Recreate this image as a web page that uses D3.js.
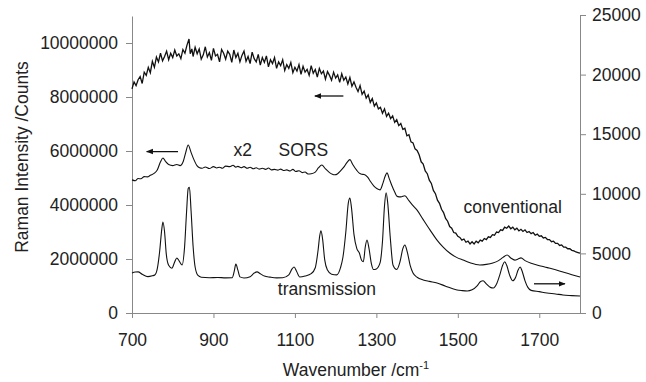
<!DOCTYPE html>
<html>
<head>
<meta charset="utf-8">
<script src="https://cdn.jsdelivr.net/npm/d3@7"></script>
<style>
  body { margin: 0; background: #fff; }
  svg text { font-family: "Liberation Sans", Arial, sans-serif; fill: #222; }
</style>
</head>
<body>
<div id="chart"></div>
<script>
// conventional spectrum (left axis, millions of counts) - noisy
var conventional = [
  [700,8.30],[705,8.56],[710,8.42],[715,8.64],[720,8.76],[725,8.50],[730,8.92],[735,8.80],[740,9.10],[745,8.90],
  [750,9.32],[755,9.10],[760,9.48],[765,9.30],[770,9.62],[775,9.34],[780,9.50],[785,9.70],[790,9.38],[795,9.62],
  [800,9.46],[805,9.74],[810,9.52],[815,9.60],[820,9.42],[825,9.76],[830,9.62],[835,9.92],[840,10.15],[843,9.60],
  [847,9.78],[850,9.50],[855,9.84],[860,9.60],[865,9.78],[870,9.40],[875,9.56],[880,9.86],[885,9.48],[890,9.64],
  [895,9.36],[900,9.80],[905,9.52],[910,9.58],[915,9.30],[920,9.76],[925,9.62],[930,9.40],[935,9.70],[940,9.58],
  [945,9.28],[950,9.74],[955,9.46],[960,9.62],[965,9.30],[970,9.54],[975,9.70],[980,9.32],[985,9.50],[990,9.24],
  [995,9.66],[1000,9.42],[1005,9.30],[1010,9.58],[1015,9.18],[1020,9.46],[1025,9.28],[1030,9.52],[1035,9.12],[1040,9.38],
  [1045,9.24],[1050,9.46],[1055,9.06],[1060,9.30],[1065,9.16],[1070,9.38],[1075,8.98],[1080,9.20],[1085,9.06],[1090,9.28],
  [1095,8.90],[1100,9.10],[1105,8.96],[1110,9.20],[1115,8.84],[1120,9.14],[1125,8.92],[1130,9.02],[1135,8.80],[1140,9.16],
  [1145,8.88],[1150,9.02],[1155,8.74],[1160,9.06],[1165,8.86],[1170,8.96],[1175,8.66],[1180,8.94],[1185,8.80],[1190,8.62],
  [1195,8.92],[1200,8.70],[1205,8.82],[1210,8.54],[1215,8.86],[1220,8.62],[1225,8.74],[1230,8.48],[1235,8.72],[1240,8.40],
  [1245,8.56],[1250,8.36],[1255,8.20],[1260,8.42],[1265,8.10],[1270,8.22],[1275,7.96],[1280,8.08],[1285,7.80],[1290,7.94],
  [1295,7.66],[1300,7.78],[1305,7.56],[1310,7.62],[1315,7.40],[1320,7.56],[1325,7.28],[1330,7.40],[1335,7.20],[1340,7.30],
  [1345,7.06],[1350,7.16],[1355,6.94],[1360,7.02],[1365,6.80],[1370,6.84],[1375,6.56],[1380,6.60],[1385,6.34],[1390,6.30],
  [1395,6.08],[1400,6.02],[1405,5.86],[1410,5.60],[1415,5.52],[1420,5.26],[1425,5.16],[1430,4.92],[1435,4.80],[1440,4.54],
  [1445,4.42],[1450,4.18],[1455,4.06],[1460,3.84],[1465,3.72],[1470,3.50],[1475,3.40],[1480,3.20],[1485,3.14],[1490,2.98],
  [1495,2.96],[1500,2.84],[1505,2.80],[1510,2.70],[1515,2.74],[1520,2.62],[1525,2.66],[1530,2.56],[1535,2.64],[1540,2.56],
  [1545,2.66],[1550,2.60],[1555,2.70],[1560,2.66],[1565,2.76],[1570,2.72],[1575,2.82],[1580,2.80],[1585,2.90],[1590,2.88],
  [1595,3.00],[1600,2.98],[1605,3.08],[1610,3.06],[1615,3.18],[1620,3.14],[1625,3.22],[1630,3.12],[1635,3.18],[1640,3.08],
  [1645,3.14],[1650,3.04],[1655,3.10],[1660,3.02],[1665,3.08],[1670,2.98],[1675,3.02],[1680,2.94],[1685,2.98],[1690,2.88],
  [1695,2.92],[1700,2.84],[1705,2.86],[1710,2.78],[1715,2.80],[1720,2.72],[1725,2.72],[1730,2.64],[1735,2.66],[1740,2.58],
  [1745,2.58],[1750,2.50],[1755,2.52],[1760,2.44],[1765,2.44],[1770,2.38],[1775,2.38],[1780,2.32],[1785,2.30],[1790,2.26],
  [1795,2.24],[1800,2.22]
];

// SORS spectrum x2 (left axis, millions of counts)
var sors = [
  [700,4.93],[708,4.90],[715,4.98],[722,4.97],[730,5.05],[738,5.04],[745,5.10],[755,5.18],[762,5.30],[770,5.60],
  [776,5.74],[782,5.62],[790,5.50],[800,5.46],[810,5.50],[818,5.46],[826,5.62],[832,5.95],[838,6.22],[845,5.95],
  [852,5.68],[860,5.45],[866,5.38],[872,5.36],[880,5.41],[890,5.35],[900,5.42],[908,5.37],[915,5.40],[922,5.36],
  [930,5.44],[940,5.42],[948,5.47],[955,5.40],[960,5.43],[968,5.38],[975,5.42],[983,5.36],[990,5.40],[998,5.34],
  [1005,5.38],[1012,5.33],[1020,5.36],[1028,5.32],[1035,5.37],[1042,5.30],[1050,5.32],[1058,5.29],[1065,5.33],[1072,5.28],
  [1080,5.30],[1088,5.26],[1095,5.32],[1102,5.24],[1110,5.27],[1118,5.20],[1125,5.22],[1132,5.15],[1140,5.16],[1150,5.22],
  [1158,5.38],[1166,5.48],[1175,5.34],[1185,5.20],[1192,5.14],[1198,5.12],[1205,5.16],[1212,5.26],[1220,5.40],[1228,5.58],
  [1235,5.68],[1242,5.50],[1252,5.28],[1258,5.18],[1264,5.14],[1270,5.13],[1278,5.04],[1286,4.86],[1294,4.70],[1302,4.60],
  [1309,4.56],[1316,4.80],[1322,5.08],[1326,5.19],[1332,4.96],[1338,4.72],[1345,4.48],[1351,4.32],[1360,4.30],[1370,4.34],
  [1380,4.16],[1390,3.98],[1400,3.81],[1415,3.46],[1432,3.07],[1448,2.72],[1464,2.44],[1480,2.22],[1497,2.06],[1513,1.96],
  [1530,1.86],[1554,1.78],[1570,1.80],[1586,1.85],[1600,1.94],[1611,2.06],[1621,2.15],[1630,2.04],[1640,1.96],[1648,2.00],
  [1655,2.04],[1665,1.94],[1680,1.84],[1694,1.78],[1720,1.68],[1740,1.60],[1758,1.52],[1780,1.42],[1800,1.33]
];

// transmission spectrum (right axis, counts)
var transmission = [
  [700,3360],[708,3440],[715,3450],[725,3250],[739,3050],[750,3120],[756,3190],[762,3700],[768,5200],[773,7000],
  [776,7640],[780,6800],[784,5000],[790,4000],[798,3760],[805,4300],[810,4620],[816,4350],[823,4030],[829,5500],
  [834,8500],[838,10450],[841,10550],[845,8600],[850,5600],[855,3860],[862,3150],[870,3000],[890,2960],[910,2980],
  [930,2950],[946,2960],[951,3500],[955,4100],[960,3600],[965,3030],[975,2940],[990,3050],[1000,3350],[1007,3450],
  [1015,3300],[1025,3100],[1039,3010],[1055,2950],[1070,2960],[1085,3200],[1093,3700],[1098,3860],[1104,3500],[1112,3020],
  [1125,3100],[1140,3300],[1150,3800],[1157,5300],[1161,6500],[1164,6900],[1168,6200],[1173,4500],[1180,3600],[1190,3250],
  [1203,3200],[1212,3800],[1218,4700],[1225,6800],[1231,9200],[1235,9650],[1239,8800],[1245,6600],[1252,5400],[1258,5050],
  [1264,4400],[1268,4300],[1273,5600],[1277,6130],[1282,5400],[1288,4100],[1293,3650],[1300,3700],[1309,4200],[1315,6000],
  [1320,9000],[1324,10080],[1328,9200],[1334,6400],[1341,4000],[1350,3650],[1358,4300],[1365,5400],[1370,5700],[1376,5100],
  [1383,4000],[1390,3360],[1400,3000],[1415,2770],[1430,2650],[1449,2520],[1470,2250],[1498,1930],[1510,1880],[1523,1850],
  [1535,1950],[1548,2300],[1556,2650],[1562,2700],[1570,2450],[1580,2150],[1587,2100],[1596,2500],[1604,3300],[1610,4000],
  [1615,4300],[1620,4000],[1627,3200],[1635,2700],[1642,3000],[1648,3600],[1653,3860],[1658,3500],[1665,2700],[1672,2150],
  [1680,1900],[1700,1790],[1719,1680],[1740,1600],[1758,1510],[1780,1460],[1800,1420]
];

var xTicks = [700, 900, 1100, 1300, 1500, 1700];
var leftTicks = [0, 2000000, 4000000, 6000000, 8000000, 10000000];
var rightTicks = [0, 5000, 10000, 15000, 20000, 25000];

var margin = {top: 15, right: 66, bottom: 69, left: 132},
    width = 646 - margin.left - margin.right,
    height = 382 - margin.top - margin.bottom;

var fontSize = "17.5px";

var svg = d3.select("#chart").append("svg")
    .attr("width", 646)
    .attr("height", 382)
  .append("g")
    .attr("transform", "translate(" + margin.left + "," + margin.top + ")");

var x = d3.scaleLinear().domain([700, 1800]).range([0, width]);
var yL = d3.scaleLinear().domain([0, 11000000]).range([height, 1]);
var yR = d3.scaleLinear().domain([0, 25000]).range([height, 0]);

function styleAxis(g) {
  g.select(".domain").attr("stroke", "#888");
  g.selectAll(".tick line").attr("stroke", "#888");
  g.selectAll(".tick text").style("font-size", fontSize).attr("fill", "#222");
}

svg.append("g")
  .attr("transform", "translate(0," + height + ")")
  .call(d3.axisBottom(x).tickValues(xTicks).tickSize(5).tickSizeOuter(0).tickPadding(16).tickFormat(d3.format("d")))
  .call(styleAxis);

svg.append("g")
  .call(d3.axisLeft(yL).tickValues(leftTicks).tickSize(6).tickSizeOuter(0).tickPadding(8).tickFormat(d3.format("d")))
  .call(styleAxis);

svg.append("g")
  .attr("transform", "translate(" + width + ",0)")
  .call(d3.axisRight(yR).tickValues(rightTicks).tickSize(6).tickSizeOuter(0).tickPadding(6).tickFormat(d3.format("d")))
  .call(styleAxis);

var lineL = d3.line()
  .x(function(d) { return x(d[0]); })
  .y(function(d) { return yL(d[1] * 1000000); });

var smoothL = d3.line()
  .curve(d3.curveMonotoneX)
  .x(function(d) { return x(d[0]); })
  .y(function(d) { return yL(d[1] * 1000000); });

var smoothR = d3.line()
  .curve(d3.curveMonotoneX)
  .x(function(d) { return x(d[0]); })
  .y(function(d) { return yR(d[1]); });

svg.append("path").attr("d", lineL(conventional))
  .attr("fill", "none").attr("stroke", "#111").attr("stroke-width", 1.3);
svg.append("path").attr("d", smoothL(sors))
  .attr("fill", "none").attr("stroke", "#111").attr("stroke-width", 1.1);
svg.append("path").attr("d", smoothR(transmission))
  .attr("fill", "none").attr("stroke", "#111").attr("stroke-width", 1.1);

// arrows showing which axis each curve uses
svg.append("defs").append("marker")
  .attr("id", "head")
  .attr("viewBox", "0 0 10 10")
  .attr("refX", 9).attr("refY", 5)
  .attr("markerWidth", 7).attr("markerHeight", 7)
  .attr("markerUnits", "userSpaceOnUse")
  .attr("orient", "auto")
  .append("path").attr("d", "M0,1L10,5L0,9Z").attr("fill", "#111");

function arrow(x1, x2, y) {
  svg.append("line")
    .attr("x1", x(x1)).attr("x2", x(x2))
    .attr("y1", y).attr("y2", y)
    .attr("stroke", "#111").attr("stroke-width", 1.3)
    .attr("marker-end", "url(#head)");
}
arrow(1219, 1149, yL(8000000) - 1);
arrow(813, 736, yL(5980000));
arrow(1687, 1763, yR(2450));

function label(txt, wx, y) {
  svg.append("text").attr("x", x(wx)).attr("y", y)
    .style("font-size", fontSize).text(txt);
}
label("x2", 949, yL(5800000));
label("SORS", 1060, yL(5800000));
label("conventional", 1514, yR(8400));
label("transmission", 1058, yR(1500));

svg.append("text")
  .attr("transform", "translate(" + (-104) + "," + (height / 2 - 7) + ")rotate(-90)")
  .attr("text-anchor", "middle")
  .style("font-size", fontSize)
  .text("Raman Intensity /Counts");

var xt = svg.append("text")
  .attr("x", width / 2)
  .attr("y", height + 63)
  .attr("text-anchor", "middle")
  .style("font-size", fontSize);
xt.append("tspan").text("Wavenumber /cm");
xt.append("tspan").attr("dy", -7).style("font-size", "11px").text("-1");
</script>
</body>
</html>
